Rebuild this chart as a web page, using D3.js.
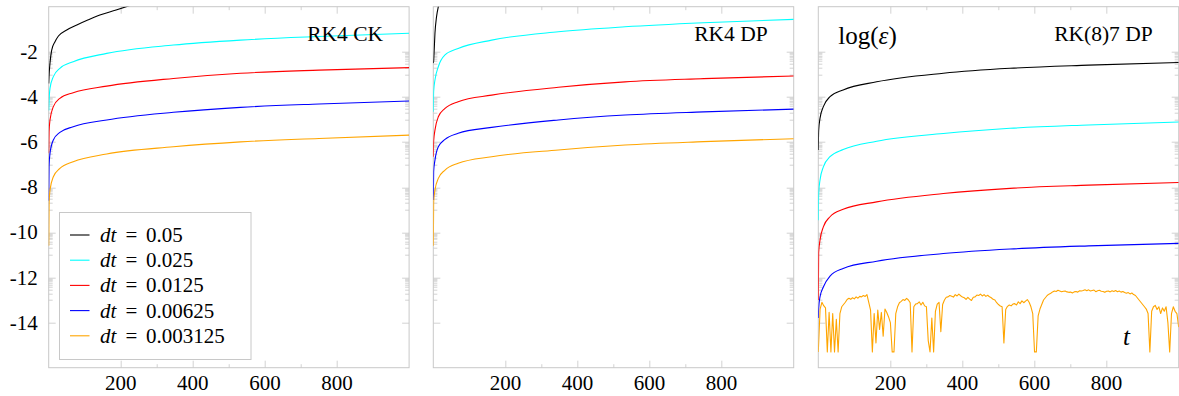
<!DOCTYPE html>
<html><head><meta charset="utf-8">
<script src="https://cdn.jsdelivr.net/npm/d3@7/dist/d3.min.js"></script>
<style>body{margin:0;background:#fff}svg{display:block}</style>
</head><body>
<svg id="chart" width="1179" height="396"></svg>
<script>
// ---------- data ----------
const panelTitles = ["RK4 CK", "RK4 DP", "RK(8)7 DP"];
const legendLabels = ["0.05", "0.025", "0.0125", "0.00625", "0.003125"];
const xMajorTicks = [200, 400, 600, 800];
const xMinorTicks = [300, 500, 700];
const yMajorTicks = [-2, -4, -6, -8, -10, -12, -14];
const yMajorLabels = ["-2", "-4", "-6", "-8", "-10", "-12", "-14"];
const yOddTicks = [-3, -5, -7, -9, -11, -13];

// RK4 CK
const tCKBlack = [0.05, 0.8, 3.6, 8.3, 17.5, 27, 50, 78, 110, 142, 187, 221, 260];
const ckBlack  = [-3.4, -3.1, -2.5, -1.92, -1.55, -1.3, -1.03, -0.81, -0.58, -0.37, -0.15, 0.03, 0.25];
const tCK      = [0.05, 1, 3.6, 12.9, 31, 68, 161, 346, 532, 750, 1000];
const ckCyan   = [-4.6, -4.18, -3.62, -3.10, -2.73, -2.44, -2.07, -1.70, -1.48, -1.32, -1.18];
const ckRed    = [-6.5, -5.55, -5.02, -4.43, -4.06, -3.81, -3.52, -3.18, -2.95, -2.81, -2.70];
const ckBlue   = [-8.6, -7.05, -6.50, -5.91, -5.57, -5.32, -5.02, -4.68, -4.46, -4.31, -4.18];
const ckOrange = [-10.6, -8.7, -8.13, -7.54, -7.17, -6.87, -6.53, -6.21, -5.99, -5.84, -5.69];

// RK4 DP
const tDPBlack = [0.05, 1, 2, 4.6, 9, 14, 20];
const dpBlack  = [-2.5, -2.4, -2.1, -1.18, -0.44, 0, 0.3];
const tDP      = [0.05, 1, 4.6, 13.9, 32.5, 69, 162, 347, 532, 750, 1000];
const dpCyan   = [-4.66, -3.75, -3.25, -2.66, -2.14, -1.85, -1.48, -1.11, -0.89, -0.71, -0.56];
const dpRed    = [-6.65, -5.95, -5.47, -4.88, -4.51, -4.21, -3.92, -3.57, -3.33, -3.19, -3.07];
const dpBlue   = [-8.57, -7.3, -6.80, -6.21, -5.88, -5.61, -5.35, -5.02, -4.80, -4.66, -4.54];
const dpOrange = [-10.6, -8.65, -8.13, -7.61, -7.24, -6.94, -6.65, -6.35, -6.13, -5.98, -5.85];

// RK(8)7 DP
const tDP8      = [0.05, 1, 4.7, 14, 32.5, 69, 162, 347, 532, 750, 1000];
const dp8Black  = [-6.35, -5.5, -4.95, -4.43, -3.99, -3.69, -3.33, -2.95, -2.73, -2.59, -2.47];
const dp8Cyan   = [-9.46, -8.25, -7.69, -7.10, -6.65, -6.33, -5.96, -5.62, -5.39, -5.24, -5.11];
const dp8Red    = [-13.0, -10.9, -10.35, -9.76, -9.31, -8.98, -8.65, -8.28, -8.05, -7.91, -7.79];
const dp8Blue   = [-13.8, -13.4, -12.86, -12.42, -11.94, -11.6, -11.28, -10.94, -10.74, -10.6, -10.49];
const tDP8OrangeStep = 5; // samples every 5 time units, t = 0 ... 1000
const dp8Orange = [
  -15.3, -13.4, -13.1, -13.25, -13.35, -15.3, -13.55, -15.3, -13.6, -15.3,
  -13.85, -15.3, -13.6, -13.3, -13.2, -13.1, -12.98, -12.92, -12.97, -12.9,
  -12.95, -12.86, -12.92, -12.84, -12.86, -12.8, -12.84, -12.76, -13.1, -13.45,
  -15.3, -13.6, -14.9, -13.45, -14.3, -13.55, -14.6, -13.4, -13.55, -13.75,
  -14.0, -15.3, -15.3, -13.6, -13.3, -13.12, -13.06, -12.98, -13.02, -12.93,
  -13.0, -13.12, -15.3, -13.3, -13.18, -13.16, -13.08, -13.22, -13.1, -13.26,
  -13.3, -14.8, -15.3, -13.8, -15.3, -13.5, -13.18, -13.1, -14.4, -13.2,
  -13.0, -12.88, -12.86, -12.8, -12.83, -12.87, -12.76, -12.82, -12.74, -12.81,
  -12.87, -12.9, -12.97, -12.88, -12.96, -13.02, -12.88, -12.86, -12.78, -12.8,
  -12.74, -12.82, -12.76, -12.84, -12.79, -12.86, -12.9, -12.97, -13.0, -13.12,
  -13.2, -13.27, -13.3, -14.9, -13.42, -13.28, -13.22, -13.26, -13.18, -13.16,
  -13.22, -13.08, -13.16, -13.04, -13.12, -13.05, -12.98, -13.1, -13.3, -13.6,
  -15.3, -15.3, -13.7, -13.4, -13.2, -13.0, -12.9, -12.8, -12.74, -12.7,
  -12.64, -12.6, -12.62, -12.57, -12.6, -12.63, -12.61, -12.6, -12.64, -12.66,
  -12.65, -12.69, -12.64, -12.62, -12.65, -12.59, -12.6, -12.58, -12.55, -12.59,
  -12.55, -12.6, -12.58, -12.56, -12.63, -12.59, -12.57, -12.61, -12.62, -12.66,
  -12.61, -12.6, -12.64, -12.59, -12.62, -12.58, -12.63, -12.6, -12.65, -12.62,
  -12.67, -12.7, -12.67, -12.73, -12.69, -12.76, -12.8, -12.9, -13.0, -13.1,
  -13.2, -13.3, -13.4, -13.6, -15.3, -13.5, -13.3, -13.24, -13.42, -13.3,
  -13.6, -13.35, -13.5, -13.3, -14.0, -15.3, -13.6, -13.3, -13.5, -13.6,
  -14.2
];

// ---------- styles / layout ----------
const colors = ["#000000", "#00ffff", "#ff0000", "#0000ff", "#ffa500"];
const FONT = "'Liberation Serif', 'Times New Roman', serif";
const frameColor = "#c8c8c8";
const panelLefts = [48.7, 433.3, 818.3];
const plotW = 360.4, plotTop = 6.7, plotH = 361;

const pair = (ts, vs) => ts.map((t, i) => ({t, v: vs[i]}));
const orangeT = d3.range(0, 1000 + tDP8OrangeStep / 2, tDP8OrangeStep);

const panels = [
  { series: [pair(tCKBlack, ckBlack), pair(tCK, ckCyan), pair(tCK, ckRed), pair(tCK, ckBlue), pair(tCK, ckOrange)], smooth: [1,1,1,1,1] },
  { series: [pair(tDPBlack, dpBlack), pair(tDP, dpCyan), pair(tDP, dpRed), pair(tDP, dpBlue), pair(tDP, dpOrange)], smooth: [1,1,1,1,1] },
  { series: [pair(tDP8, dp8Black), pair(tDP8, dp8Cyan), pair(tDP8, dp8Red), pair(tDP8, dp8Blue), pair(orangeT, dp8Orange)], smooth: [1,1,1,1,0] }
];

const svg = d3.select("#chart");
const x = d3.scaleLinear().domain([0, 1000]).range([0, plotW]);
const y = d3.scaleLinear().domain([-16, 0]).range([plotH, 0]);

// minor "log" ticks in the decade below each even major tick
const yClusterTicks = [];
yOddTicks.forEach(m => { for (let k = 2; k <= 9; k++) yClusterTicks.push(m + Math.log10(k)); });

panels.forEach((p, pi) => {
  const g = svg.append("g").attr("transform", `translate(${panelLefts[pi]},${plotTop})`);
  const clipId = "clip" + pi;
  g.append("clipPath").attr("id", clipId).append("rect")
    .attr("x", 0).attr("y", 0).attr("width", plotW).attr("height", plotH);

  // ticks (inward, mirrored)
  const tickG = g.append("g").attr("stroke", frameColor).attr("stroke-width", 0.8).attr("fill", "none");
  const vt = (vals, len) => vals.forEach(v => {
    const xx = Math.round(x(v)) + 0.5;
    tickG.append("line").attr("x1", xx).attr("x2", xx).attr("y1", plotH).attr("y2", plotH - len);
    tickG.append("line").attr("x1", xx).attr("x2", xx).attr("y1", 0).attr("y2", len);
  });
  const ht = (vals, len) => vals.forEach(v => {
    const yy = Math.round(y(v)) + 0.5;
    tickG.append("line").attr("x1", 0).attr("x2", len).attr("y1", yy).attr("y2", yy);
    tickG.append("line").attr("x1", plotW).attr("x2", plotW - len).attr("y1", yy).attr("y2", yy);
  });
  vt(xMajorTicks, 7); vt(xMinorTicks, 3.5);
  ht(yMajorTicks, 7); ht(yOddTicks, 4); ht(yClusterTicks, 4);

  // frame
  g.append("rect").attr("x", 0).attr("y", 0).attr("width", plotW).attr("height", plotH)
    .attr("fill", "none").attr("stroke", frameColor).attr("stroke-width", 1);

  // series
  const lg = g.append("g").attr("clip-path", `url(#${clipId})`);
  p.series.forEach((s, si) => {
    const line = d3.line().x(d => x(d.t)).y(d => y(d.v))
      .curve(p.smooth[si] ? d3.curveMonotoneX : d3.curveLinear);
    lg.append("path").datum(s).attr("d", line)
      .attr("fill", "none").attr("stroke", colors[si]).attr("stroke-width", 1.1)
      .attr("stroke-linejoin", "round");
  });

  // x tick labels
  g.selectAll(".xl").data(xMajorTicks).enter().append("text")
    .attr("x", d => x(d)).attr("y", plotH + 22.5).attr("text-anchor", "middle")
    .attr("font-family", FONT).attr("font-size", 21).attr("fill", "#000").text(d => d);

  // y tick labels (first panel only)
  if (pi === 0) {
    g.selectAll(".yl").data(yMajorTicks).enter().append("text")
      .attr("x", -11).attr("y", d => y(d)).attr("dy", "0.34em").attr("text-anchor", "end")
      .attr("font-family", FONT).attr("font-size", 21).attr("fill", "#000")
      .text((d, i) => yMajorLabels[i]);
  }

  // title
  g.append("text").attr("x", plotW - 26).attr("y", 34).attr("text-anchor", "end")
    .attr("font-family", FONT).attr("font-size", 21.5).attr("fill", "#000")
    .text(panelTitles[pi]);
});

// axis labels inside third panel
const g3x = panelLefts[2];
const ylab = svg.append("text").attr("x", g3x + 20).attr("y", 43.5)
  .attr("font-family", FONT).attr("font-size", 25).attr("fill", "#000");
ylab.append("tspan").text("log(");
ylab.append("tspan").attr("font-style", "italic").text("ε");
ylab.append("tspan").text(")");
svg.append("text").attr("x", 1123).attr("y", 345).attr("font-family", FONT)
  .attr("font-style", "italic").attr("font-size", 25).attr("fill", "#000").text("t");

// legend
const lgd = svg.append("g");
lgd.append("rect").attr("x", 59.5).attr("y", 212.5).attr("width", 191.5).attr("height", 147)
  .attr("fill", "#fff").attr("stroke", frameColor).attr("stroke-width", 1);
legendLabels.forEach((lab, i) => {
  const cy = 235 + i * 25.2;
  lgd.append("line").attr("x1", 70).attr("x2", 89.5).attr("y1", cy).attr("y2", cy)
    .attr("stroke", colors[i]).attr("stroke-width", 1.1);
  const tx = lgd.append("text").attr("y", cy + 7).attr("font-family", FONT)
    .attr("font-size", 21).attr("fill", "#000");
  tx.append("tspan").attr("x", 100).attr("font-style", "italic").text("dt");
  tx.append("tspan").attr("x", 131.3).attr("text-anchor", "middle").text("=");
  tx.append("tspan").attr("x", 146).attr("text-anchor", "start").text(lab);
});
</script>
</body></html>
